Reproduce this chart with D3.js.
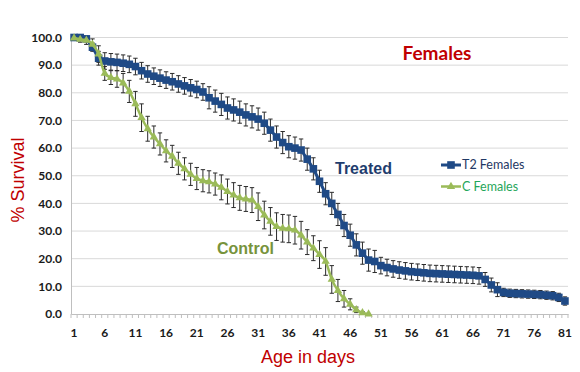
<!DOCTYPE html>
<html lang="en">
<head>
    <meta charset="UTF-8">
    <title>Females survival</title>
    <script src="https://d3js.org/d3.v7.min.js"></script>
    <style>
        body { margin: 0; background: #fff; }
    </style>
</head>
<body>
    <div id="chart"></div>
    <script>
        const width = 580;
        const height = 372;

        // Age in days (categories)
        const days = d3.range(1, 82);
        const xTickLabels = ["1","6","11","16","21","26","31","36","41","46","51","56","61","66","71","76","81"];
        const yTickValues = [0, 10, 20, 30, 40, 50, 60, 70, 80, 90, 100];

        // T2 Females (% survival per day)
        const treated = [100,100,99.5,96.5,92.5,91.5,91.2,91,90.7,90.3,
            89.5,88,86.8,86,85.3,84.6,84,83.2,82.5,81.8,
            81.2,80.3,78.2,77,75.8,74.5,73.8,73,72,71.3,
            70.5,69,66.5,64,62,60.5,60,59.3,56,52.5,
            48,43.5,40,36,32,28.5,25,22,19.5,19,
            17.5,16.8,16.3,15.9,15.6,15.3,15.1,14.9,14.7,14.6,
            14.5,14.4,14.3,14.2,14.1,14.0,13.8,12.5,10.5,8.8,
            7.8,7.5,7.4,7.3,7.2,7.1,7.0,6.8,6.6,6.0,4.7];
        const treatedErr = [0.5,0.5,0.5,1.5,2.5,3,3,3,3,3,
            3,3,3,3,3,3,3,3,3,3,
            3,3,4,4,4,4,4,4,4,4,
            4,4,4,4,4,4,4,4,4,4,
            4,4,4,4,4,4,4,4,4,4,
            3,3,3,3,3,3,3,3,3,3,
            3,3,3,3,3,3,3,2.5,2.5,2.5,
            1.5,1.5,1.5,1.5,1.5,1.5,1.5,1.5,1.5,1.5,1.5];

        // C Females (% survival per day)
        const control = [99.8,99.3,99,97.5,94,87,85.5,85,83.5,80.5,
            76,71,67,64,61.5,59,57,54.5,52.5,50.5,
            49,48.2,47.8,47,45.8,44.3,43,42,41.6,41.2,
            38.8,35.8,33.5,31.6,31,30.8,30.3,28.5,26,23.8,
            21.5,19,12.5,8.5,5.5,3.5,1.5,0.4,0];
        const controlErr = [0.5,1,1.5,2,3,2.5,2.5,3,3.5,4,
            4.5,5,4.5,4,4,4,4,4,4,4,
            4,4,4,4,4.5,4.5,4.5,4.5,4.5,4.5,
            5,5,5,5,5,5,5,5,4.5,4.5,
            5,5,5,4,3,2,1,0.5,0];

        const blue = "#1f4a86";
        const green = "#9bbb59";

        const svg = d3.select("#chart").append("svg")
            .attr("width", width)
            .attr("height", height);

        const plot = { left: 71, right: 568, top: 37.5, bottom: 314 };

        const x = d3.scaleBand()
            .domain(days)
            .range([plot.left, plot.right])
            .padding(0);
        const cx = d => x(d) + x.bandwidth() / 2;

        const y = d3.scaleLinear()
            .domain([0, 100])
            .range([plot.bottom, plot.top]);

        // horizontal gridlines
        svg.append("g")
            .selectAll("line")
            .data(yTickValues.filter(v => v > 0))
            .join("line")
            .attr("x1", plot.left).attr("x2", plot.right)
            .attr("y1", d => y(d)).attr("y2", d => y(d))
            .attr("stroke", "#d9d9d9").attr("stroke-width", 1);

        // y axis
        const yAxis = svg.append("g")
            .attr("transform", `translate(${plot.left},0)`)
            .call(d3.axisLeft(y).tickValues(yTickValues).tickFormat(d3.format(".1f")).tickSize(0).tickPadding(9));
        yAxis.select(".domain").attr("stroke", "#bfbfbf");
        yAxis.selectAll("text")
            .attr("font-family", "Lato, sans-serif")
            .attr("font-weight", "bold")
            .attr("font-size", 12)
            .attr("fill", "#1a1a1a");

        // x axis
        const xAxis = svg.append("g")
            .attr("transform", `translate(0,${plot.bottom})`)
            .call(d3.axisBottom(x)
                .tickValues(xTickLabels.map(Number))
                .tickSize(0).tickPadding(14));
        xAxis.select(".domain").attr("stroke", "#bfbfbf");
        xAxis.selectAll("text")
            .attr("font-family", "Lato, sans-serif")
            .attr("font-weight", "bold")
            .attr("font-size", 12)
            .attr("fill", "#1a1a1a");
        // small tick marks at category boundaries
        svg.append("g")
            .selectAll("line")
            .data(days.concat([82]))
            .join("line")
            .attr("x1", d => d <= 81 ? x(d) : plot.right)
            .attr("x2", d => d <= 81 ? x(d) : plot.right)
            .attr("y1", plot.bottom).attr("y2", plot.bottom + 4)
            .attr("stroke", "#bfbfbf").attr("stroke-width", 1);

        // error bars
        function errorBars(values, errs) {
            const g = svg.append("g").attr("stroke", "#2b2b2b").attr("stroke-width", 1);
            values.forEach((v, i) => {
                const e = errs[i];
                if (!e) return;
                const d = days[i];
                const xp = cx(d);
                g.append("line").attr("x1", xp).attr("x2", xp)
                    .attr("y1", y(v + e)).attr("y2", y(Math.max(0, v - e)));
                g.append("line").attr("x1", xp - 2.2).attr("x2", xp + 2.2)
                    .attr("y1", y(v + e)).attr("y2", y(v + e));
                g.append("line").attr("x1", xp - 2.2).attr("x2", xp + 2.2)
                    .attr("y1", y(Math.max(0, v - e))).attr("y2", y(Math.max(0, v - e)));
            });
        }
        errorBars(treated, treatedErr);
        errorBars(control, controlErr);

        // treated series
        const treatedPts = treated.map((v, i) => [cx(days[i]), y(v)]);
        svg.append("path")
            .attr("d", d3.line()(treatedPts))
            .attr("fill", "none")
            .attr("stroke", blue)
            .attr("stroke-width", 3);
        svg.append("g")
            .selectAll("rect")
            .data(treatedPts)
            .join("rect")
            .attr("x", d => d[0] - 3.8).attr("y", d => d[1] - 3.8)
            .attr("width", 7.6).attr("height", 7.6)
            .attr("fill", blue);

        // control series
        const controlPts = control.map((v, i) => [cx(days[i]), y(v)]);
        svg.append("path")
            .attr("d", d3.line().curve(d3.curveMonotoneX)(controlPts))
            .attr("fill", "none")
            .attr("stroke", green)
            .attr("stroke-width", 2.5);
        const tri = d3.symbol().type(d3.symbolTriangle).size(30);
        svg.append("g")
            .selectAll("path")
            .data(controlPts)
            .join("path")
            .attr("d", tri)
            .attr("transform", d => `translate(${d[0]},${d[1]})`)
            .attr("fill", green);

        // titles
        svg.append("text")
            .attr("x", 437).attr("y", 59.5)
            .attr("text-anchor", "middle")
            .attr("font-family", "Lato, sans-serif")
            .attr("font-weight", "bold")
            .attr("font-size", 19)
            .attr("fill", "#c00000")
            .text("Females");

        svg.append("text")
            .attr("transform", "translate(24,180) rotate(-90)")
            .attr("text-anchor", "middle")
            .attr("font-family", "'Liberation Sans', Arial, sans-serif")
            .attr("font-size", 18)
            .attr("fill", "#c00000")
            .text("% Survival");

        svg.append("text")
            .attr("x", 308).attr("y", 363)
            .attr("text-anchor", "middle")
            .attr("font-family", "'Liberation Sans', Arial, sans-serif")
            .attr("font-size", 18)
            .attr("fill", "#c00000")
            .text("Age in days");

        svg.append("text")
            .attr("x", 335).attr("y", 174)
            .attr("font-family", "'Liberation Sans', Arial, sans-serif")
            .attr("font-weight", "bold")
            .attr("font-size", 16)
            .attr("fill", "#1f3d6e")
            .text("Treated");

        svg.append("text")
            .attr("x", 217).attr("y", 254)
            .attr("font-family", "'Liberation Sans', Arial, sans-serif")
            .attr("font-weight", "bold")
            .attr("font-size", 16)
            .attr("fill", "#77933c")
            .text("Control");

        // legend
        const legend = [
            { name: "T2 Females", color: blue, text: "#1f3864", y: 165, shape: "square" },
            { name: "C Females", color: green, text: "#1fa65a", y: 186.5, shape: "triangle" }
        ];
        const lg = svg.append("g");
        legend.forEach(l => {
            lg.append("line")
                .attr("x1", 441).attr("x2", 461)
                .attr("y1", l.y).attr("y2", l.y)
                .attr("stroke", l.color)
                .attr("stroke-width", l.shape === "square" ? 3 : 2.5);
            if (l.shape === "square") {
                lg.append("rect").attr("x", 451 - 3.8).attr("y", l.y - 3.8)
                    .attr("width", 7.6).attr("height", 7.6).attr("fill", l.color);
            } else {
                lg.append("path").attr("d", tri)
                    .attr("transform", `translate(451,${l.y})`).attr("fill", l.color);
            }
            lg.append("text")
                .attr("x", 462).attr("y", l.y)
                .attr("dy", "0.35em")
                .attr("font-family", "Lato, sans-serif")
                .attr("font-size", 12.5)
                .attr("fill", l.text)
                .text(l.name);
        });
    </script>
</body>
</html>
